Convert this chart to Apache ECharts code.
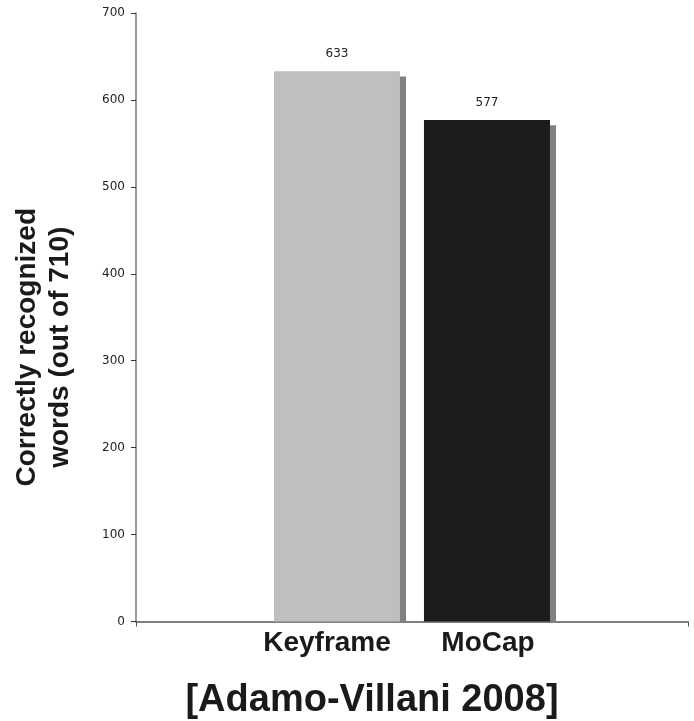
<!DOCTYPE html>
<html>
<head>
<meta charset="utf-8">
<script src="https://cdn.jsdelivr.net/npm/echarts@6/dist/echarts.min.js"></script>
<style>
html,body{margin:0;padding:0;background:#fff;}
#chart{width:694px;height:721px;}
</style>
</head>
<body>
<div id="chart"></div>
<script>
// ---- data ----
const categories = ['Keyframe', 'MoCap'];
const values = [633, 577];
const barColors = ['#bfbfbf', '#1c1c1c'];
const yTicks = [0, 100, 200, 300, 400, 500, 600, 700];
const yName = 'Correctly recognized\nwords (out of 710)';
const titleText = '[Adamo-Villani 2008]';

// shadow drop (style offset in axis units)
const shadowDrop = 6;

const chart = echarts.init(document.getElementById('chart'), null, {renderer: 'canvas'});

const option = {
  backgroundColor: '#ffffff',
  animation: false,
  title: {
    text: titleText,
    left: 367,
    top: 677,
    textAlign: 'center',
    textStyle: {
      fontFamily: 'Liberation Sans, Arial, sans-serif',
      fontWeight: 'bold',
      fontSize: 38,
      color: '#1a1a1a'
    }
  },
  grid: [
    {left: 136, right: 6, top: 13, bottom: 99.5, containLabel: false, outerBoundsMode: 'none'},
    {left: 265, width: 300, top: 13, bottom: 99.5, containLabel: false, outerBoundsMode: 'none'}
  ],
  xAxis: [
    {
      gridIndex: 0,
      type: 'value',
      min: 0, max: 1, interval: 1,
      axisLine: {show: true, onZero: false, lineStyle: {color: '#555', width: 1.5}},
      axisTick: {show: true, length: 5, lineStyle: {color: '#555'}},
      axisLabel: {show: false},
      splitLine: {show: false}
    },
    {
      gridIndex: 1,
      type: 'category',
      data: [
        {value: categories[0], textStyle: {padding: [0, 26, 0, 0]}},
        {value: categories[1], textStyle: {padding: [0, 4, 0, 0]}}
      ],
      axisLine: {show: false},
      axisTick: {show: false},
      axisLabel: {
        interval: 0,
        hideOverlap: false,
        margin: 8,
        fontFamily: 'Liberation Sans, Arial, sans-serif',
        fontWeight: 'bold',
        fontSize: 28,
        color: '#1a1a1a'
      },
      splitLine: {show: false}
    }
  ],
  yAxis: [
    {
      gridIndex: 0,
      type: 'value',
      min: yTicks[0], max: yTicks[yTicks.length - 1], interval: 100,
      axisLine: {show: true, lineStyle: {color: '#777', width: 1.5}},
      axisTick: {show: true, length: 5, lineStyle: {color: '#333'}},
      axisLabel: {
        margin: 11,
        fontFamily: 'DejaVu Sans, Verdana, sans-serif',
        fontSize: 12,
        color: '#1d1d2b'
      },
      splitLine: {show: false},
      name: yName,
      nameLocation: 'middle',
      nameRotate: 90,
      nameGap: 59,
      nameTextStyle: {
        fontFamily: 'Liberation Sans, Arial, sans-serif',
        fontWeight: 'bold',
        fontSize: 28,
        lineHeight: 33,
        color: '#1a1a1a',
        align: 'center',
        padding: [0, 60, 0, 0]
      }
    },
    {
      gridIndex: 1,
      type: 'value',
      min: yTicks[0], max: yTicks[yTicks.length - 1], interval: 100,
      show: false,
      splitLine: {show: false}
    }
  ],
  series: [
    {
      type: 'bar',
      xAxisIndex: 1, yAxisIndex: 1,
      barWidth: 126,
      barGap: '-95.2%',
      z: 3,
      data: values.map((v, i) => ({value: v, itemStyle: {color: barColors[i]}})),
      label: {
        show: true,
        position: 'top',
        distance: 11,
        fontFamily: 'DejaVu Sans, Verdana, sans-serif',
        fontSize: 12,
        color: '#222'
      }
    },
    {
      type: 'bar',
      xAxisIndex: 1, yAxisIndex: 1,
      barWidth: 126,
      z: 1,
      silent: true,
      itemStyle: {color: '#808080'},
      data: values.map(v => v - shadowDrop)
    }
  ]
};
chart.setOption(option);
</script>
</body>
</html>
